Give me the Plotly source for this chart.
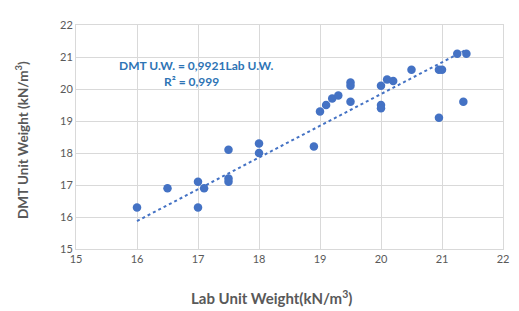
import plotly.graph_objects as go

lab_uw = [16.0, 16.5, 17.0, 17.0, 17.1, 17.5, 17.5, 17.5, 18.0, 18.0, 18.9,
          19.0, 19.1, 19.2, 19.3, 19.5, 19.5, 19.5, 20.0, 20.0, 20.0, 20.1,
          20.2, 20.5, 20.95, 21.0, 20.95, 21.25, 21.4, 21.35]
dmt_uw = [16.3, 16.9, 17.1, 16.3, 16.9, 18.1, 17.2, 17.1, 18.3, 18.0, 18.2,
          19.3, 19.5, 19.7, 19.8, 20.2, 20.1, 19.6, 20.1, 19.5, 19.4, 20.3,
          20.25, 20.6, 20.6, 20.6, 19.1, 21.1, 21.1, 19.6]
slope = 0.9921
x_ticks = [15, 16, 17, 18, 19, 20, 21, 22]
y_ticks = [15, 16, 17, 18, 19, 20, 21, 22]

xmin, xmax = min(lab_uw), max(lab_uw)
trend_x = [xmin, xmax]
trend_y = [slope * v for v in trend_x]

fig = go.Figure()
fig.add_trace(go.Scatter(x=trend_x, y=trend_y, mode="lines",
                         line=dict(color="#4472C4", width=2, dash="dot"),
                         hoverinfo="skip", showlegend=False))
fig.add_trace(go.Scatter(x=lab_uw, y=dmt_uw, mode="markers",
                         marker=dict(color="#4472C4", size=8.5),
                         showlegend=False))

axis_common = dict(showgrid=True, gridcolor="#D9D9D9", gridwidth=1,
                   zeroline=False, showline=True, linecolor="#D9D9D9",
                   linewidth=1, mirror=True, ticks="",
                   tickfont=dict(family="Lato, sans-serif", size=11, color="#595959"))
fig.update_xaxes(range=[15, 22], tickvals=x_ticks, **axis_common)
fig.update_yaxes(range=[15, 22], tickvals=y_ticks, **axis_common)

xt_font = dict(family="Lato, sans-serif", size=15, color="#595959")
yt_font = dict(family="Lato, sans-serif", size=13.5, color="#595959")
lbl_font = dict(family="Lato, sans-serif", size=12, color="#2E74B5")
fig.update_layout(
    width=511, height=303,
    margin=dict(l=68, r=12, t=10, b=62),
    plot_bgcolor="white", paper_bgcolor="white",
    annotations=[
        dict(text="<b>Lab Unit Weight(kN/m<sup>3</sup>)</b>", xref="paper", yref="paper",
             x=0.457, y=-0.215, showarrow=False, font=xt_font,
             xanchor="center", yanchor="middle"),
        dict(text="<b>DMT Unit Weight (kN/m<sup>3</sup>)</b>", xref="paper", yref="paper",
             x=-0.125, y=0.485, showarrow=False, font=yt_font, textangle=-90,
             xanchor="center", yanchor="middle"),
        dict(text="<b>DMT U.W. = 0,9921Lab U.W.</b>", x=16.96, y=20.72,
             showarrow=False, font=lbl_font, xanchor="center", yanchor="middle"),
        dict(text="<b>R² = 0,999</b>", x=17.38, y=20.23,
             showarrow=False, font=lbl_font, xanchor="right", yanchor="middle"),
    ],
)
fig.write_html("out.html")
